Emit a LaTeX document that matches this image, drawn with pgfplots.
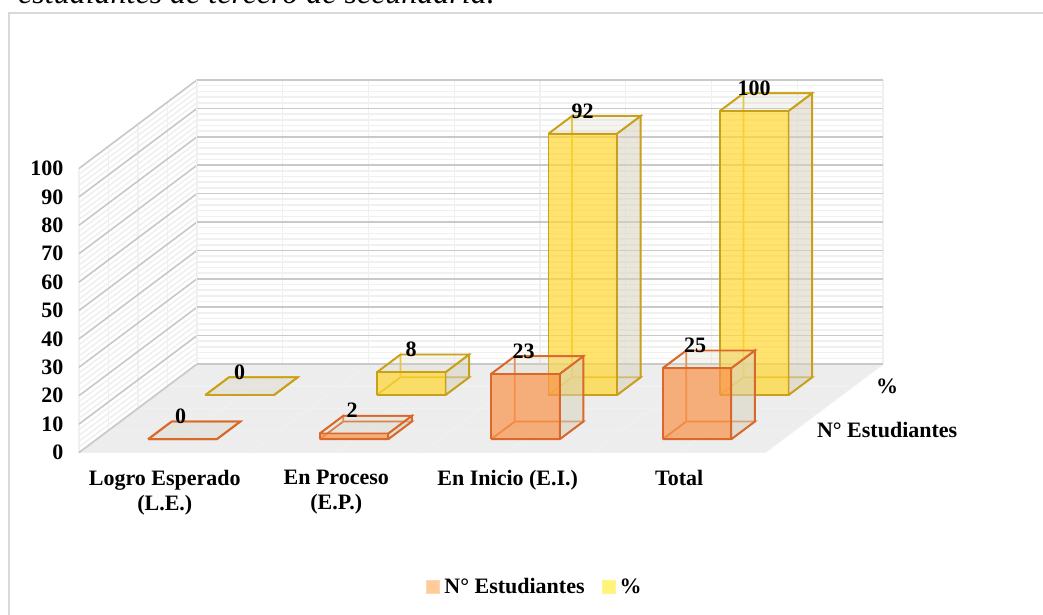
\documentclass[border=0pt]{standalone}
\usepackage{fontspec}
\setmainfont{Liberation Serif}
\usepackage{pgfplots}
\pgfplotsset{compat=1.18}

\definecolor{floorc}{HTML}{EDEDED}
\definecolor{majorc}{HTML}{C9C9C9}
\definecolor{minorc}{HTML}{F0F0F0}
\definecolor{framec}{HTML}{D9D9D9}
\definecolor{orfill}{HTML}{F9964F}
\definecolor{oredge}{HTML}{D9682A}
\definecolor{orback}{HTML}{E87B3A}
\definecolor{yefill}{HTML}{FFD836}
\definecolor{yeedge}{HTML}{C9A01A}
\definecolor{yeback}{HTML}{EDC21E}
\definecolor{sidec}{HTML}{D8D2BE}
\definecolor{legor}{HTML}{FFCC99}
\definecolor{legye}{HTML}{FFF37A}

% one translucent cuboid: x0 x1 y0 y1 value fill edge backedge
\newcommand{\cuboid}[8]{
  \addplot3[fill=sidec,fill opacity=.1,draw=#7,line width=1.8pt,forget plot] coordinates {(#1,#3,0) (#2,#3,0) (#2,#4,0) (#1,#4,0) (#1,#3,0)};
  \addplot3[draw=#8,line width=1.8pt,forget plot] coordinates {(#1,#3,#5) (#1,#4,#5) (#1,#4,0)};
  \addplot3[draw=#8,line width=1.8pt,forget plot] coordinates {(#1,#4,#5) (#2,#4,#5)};
  \addplot3[fill=sidec,fill opacity=.55,draw=#7,line width=1.8pt,forget plot] coordinates {(#2,#3,0) (#2,#4,0) (#2,#4,#5) (#2,#3,#5) (#2,#3,0)};
  \addplot3[fill=sidec,fill opacity=.25,draw=#7,line width=1.8pt,forget plot] coordinates {(#1,#3,#5) (#2,#3,#5) (#2,#4,#5) (#1,#4,#5) (#1,#3,#5)};
  \addplot3[fill=#6,fill opacity=.72,draw=#7,line width=1.8pt,forget plot] coordinates {(#1,#3,0) (#2,#3,0) (#2,#3,#5) (#1,#3,#5) (#1,#3,0)};
}

\begin{document}
\begin{tikzpicture}[x=1pt,y=1pt]
\draw[framec,line width=2pt] (1050,601) -- (9,601) -- (9,-5);
\node[anchor=base west,inner sep=0pt,font=\fontsize{32}{36}\selectfont\itshape] at (18,610) {estudiantes de tercero de secundaria.};

\begin{axis}[
  set layers=standard,
  at={(79pt,161.5pt)}, anchor=origin,
  x={(171.5pt,0pt)}, y={(59pt,44.25pt)}, z={(0pt,2.84pt)},
  xmin=0, xmax=4, ymin=0, ymax=2, zmin=0, zmax=100,
  clip=false,
  axis line style={draw=none},
  major tick length=0pt, minor tick length=0pt,
  xtick={0,0.5,...,4},
  ytick={0,0.5,...,2},
  ztick={0,10,...,100},
  minor z tick num=4,
  xticklabels={,{Logro Esperado\\(L.E.)},,{En Proceso\\(E.P.)},,{En Inicio (E.I.)},,Total,},
  yticklabels={,{N° Estudiantes},,\%,},
  x tick label style={align=center,anchor=north,yshift=-14pt},
  y tick label style={anchor=west,xshift=19pt},
  z tick label style={anchor=east,xshift=-12pt},
  ticklabel style={font=\fontsize{22}{25}\selectfont\bfseries},
  /pgf/number format/assume math mode=true,
  xmajorgrids, ymajorgrids, zmajorgrids, zminorgrids,
  x grid style={minorc,line width=1.4pt},
  y grid style={minorc,line width=1.4pt},
  major z grid style={majorc,line width=1.7pt},
  minor z grid style={minorc,line width=1.6pt},
  legend columns=-1,
  legend style={at={(axis cs:2.659,0,-47.36)},anchor=center,draw=none,fill=none,
    font=\fontsize{22}{25}\selectfont\bfseries,
    /tikz/every even column/.style={column sep=15pt},
    /tikz/every odd column/.style={column sep=2pt}},
  legend image code/.code={\draw[#1] (0pt,-6pt) rectangle (13pt,7pt);},
]
% floor
\addplot3[on layer=axis background,fill=floorc,draw=none,forget plot]
  coordinates {(0,0,0) (4,0,0) (4,2,0) (0,2,0) (0,0,0)};

% rear row: %
\cuboid{0.29}{0.69}{1.3}{1.7}{0}{yefill}{yeedge}{yeback}
\cuboid{1.29}{1.69}{1.3}{1.7}{8}{yefill}{yeedge}{yeback}
\cuboid{2.29}{2.69}{1.3}{1.7}{92}{yefill}{yeedge}{yeback}
\cuboid{3.29}{3.69}{1.3}{1.7}{100}{yefill}{yeedge}{yeback}
% front row: N° Estudiantes
\cuboid{0.3}{0.7}{0.3}{0.7}{0}{orfill}{oredge}{orback}
\cuboid{1.3}{1.7}{0.3}{0.7}{2}{orfill}{oredge}{orback}
\cuboid{2.3}{2.7}{0.3}{0.7}{23}{orfill}{oredge}{orback}
\cuboid{3.3}{3.7}{0.3}{0.7}{25}{orfill}{oredge}{orback}

% value labels
\addplot3[draw=none,mark=none,forget plot,
  nodes near coords,point meta=explicit symbolic,
  every node near coord/.style={anchor=center,xshift=-13.6pt,yshift=14pt,
    font=\fontsize{22}{25}\selectfont\bfseries,text=black}]
  coordinates {(0.5,1.5,0)[0] (1.5,1.5,8)[8] (2.5,1.5,92)[92] (3.5,1.5,100)[100]
    (0.5,0.5,0)[0] (1.5,0.5,2)[2] (2.5,0.5,23)[23] (3.5,0.5,25)[25]};

\addlegendimage{fill=legor,draw=legor!80!white,line width=1pt}
\addlegendentry{N° Estudiantes}
\addlegendimage{fill=legye,draw=legye!80!white,line width=1pt}
\addlegendentry{\%}
\end{axis}
\pgfresetboundingbox
\path[use as bounding box] (0,0) rectangle (1043,614);
\end{tikzpicture}
\end{document}
